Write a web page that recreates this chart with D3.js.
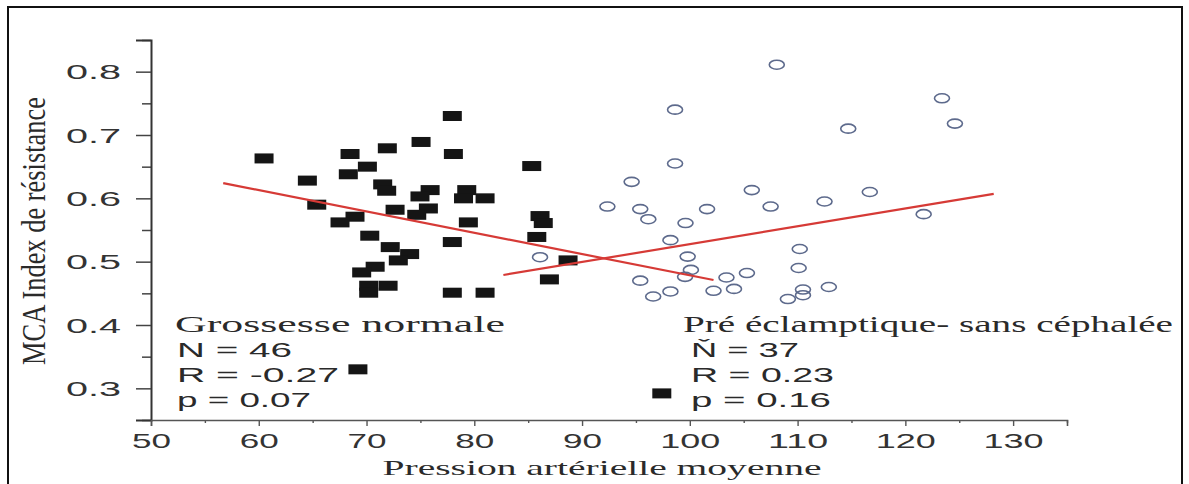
<!DOCTYPE html>
<html><head><meta charset="utf-8">
<script src="https://cdn.jsdelivr.net/npm/d3@7"></script>
<style>html,body{margin:0;padding:0;background:#fff;}svg{display:block;}</style>
</head><body>
<svg id="chart" width="1189" height="484"></svg>
<script>
// ---- data ----
const normalX = [77.96,75.06,71.93,60.49,68.47,78.06,70.08,85.33,68.31,64.51,71.5,71.87,75.9,74.96,79.3,79.0,81.0,65.38,68.93,67.54,72.65,75.74,74.66,79.45,86.1,86.4,70.3,85.8,77.96,72.2,74.0,72.95,70.8,69.55,88.7,86.97,70.2,72.0,70.2,77.96,81.0,69.2,97.4];
const normalY = [0.730,0.689,0.679,0.663,0.670,0.670,0.650,0.651,0.638,0.628,0.622,0.612,0.613,0.603,0.613,0.600,0.600,0.590,0.571,0.562,0.582,0.584,0.574,0.562,0.572,0.561,0.541,0.539,0.531,0.523,0.512,0.502,0.492,0.483,0.502,0.472,0.462,0.462,0.451,0.451,0.451,0.330,0.292];
const preX = [108.07,123.4,124.6,98.63,114.7,98.63,94.6,105.75,116.7,92.35,95.4,101.6,107.5,112.5,96.15,99.6,121.7,98.2,86.1,99.8,110.2,110.1,100.1,99.56,95.4,103.4,105.3,112.9,110.5,110.5,109.1,96.6,98.2,102.2,104.1];
const preY = [0.811,0.758,0.718,0.740,0.710,0.655,0.626,0.613,0.610,0.587,0.583,0.583,0.587,0.595,0.567,0.561,0.575,0.534,0.507,0.508,0.520,0.490,0.487,0.476,0.470,0.475,0.482,0.460,0.456,0.447,0.441,0.445,0.453,0.454,0.457];
const normalFitX = [56.7, 102.2];
const normalFitY = [0.624, 0.471];
const preFitX = [82.7, 128.2];
const preFitY = [0.479, 0.607];
const xMajorTicks = [50,60,70,80,90,100,110,120,130];
const xMinorTicks = [55,65,75,85,95,105,115,125,135];
const yMajorTicks = [0.3,0.4,0.5,0.6,0.7,0.8];
const yMinorTicks = [0.25,0.35,0.45,0.55,0.65,0.75,0.85];
const xTitle = "Pression artérielle moyenne";
const yTitle = "MCA Index de résistance";
const normalLabels = ["Grossesse normale","N = 46","R = -0.27","p = 0.07"];
const preLabels = ["Pré éclamptique- sans céphalée","Ň = 37","R = 0.23","p = 0.16"];

// ---- drawing ----
const svg = d3.select("#chart");
const x = d3.scaleLinear().domain([50,135]).range([151,1067]);
const y = d3.scaleLinear().domain([0.25,0.85]).range([420,40]);
const ink = "#2a2a2a";

// frame
svg.append("rect").attr("x",8).attr("y",7).attr("width",1174).attr("height",500)
  .attr("fill","none").attr("stroke","#111").attr("stroke-width",2);

// y axis
const yMinor = svg.append("g").attr("transform","translate(151,0)")
  .call(d3.axisLeft(y).tickValues(yMinorTicks).tickSize(9).tickFormat(""));
const yMajor = svg.append("g").attr("transform","translate(151,0)")
  .call(d3.axisLeft(y).tickValues(yMajorTicks).tickSize(15).tickFormat(d3.format(".1f")));
[yMinor,yMajor].forEach(g=>{
  g.select(".domain").attr("stroke","#333").attr("stroke-width",2);
  g.selectAll(".tick line").attr("stroke","#444").attr("stroke-width",1.5);
});
yMinor.select(".domain").remove();
yMajor.selectAll(".tick text")
  .attr("x",-30).attr("dy","0.36em")
  .attr("font-family","Liberation Sans, Arial, sans-serif").attr("font-size",20)
  .attr("fill","#333").attr("textLength",55).attr("lengthAdjust","spacingAndGlyphs");

// x axis
const xMinor = svg.append("g").attr("transform","translate(0,420)")
  .call(d3.axisBottom(x).tickValues(xMinorTicks).tickSize(3).tickFormat(""));
const xMajor = svg.append("g").attr("transform","translate(0,420)")
  .call(d3.axisBottom(x).tickValues(xMajorTicks).tickSize(6).tickFormat(d3.format("d")));
[xMinor,xMajor].forEach(g=>{
  g.select(".domain").attr("stroke","#555").attr("stroke-width",1.6);
  g.selectAll(".tick line").attr("stroke","#555").attr("stroke-width",1.4);
});
xMinor.select(".domain").remove();
xMajor.selectAll(".tick text")
  .attr("y",28).attr("dy",null)
  .attr("font-family","Liberation Sans, Arial, sans-serif").attr("font-size",21)
  .attr("fill","#333")
  .attr("textLength",d=>String(d).length===3?60:39).attr("lengthAdjust","spacingAndGlyphs");

// axis titles
svg.append("text").attr("x",602).attr("y",475).attr("text-anchor","middle")
  .attr("font-family","Liberation Serif, Times New Roman, serif").attr("font-size",21)
  .attr("fill",ink).attr("textLength",439).attr("lengthAdjust","spacingAndGlyphs").text(xTitle);
svg.append("text").attr("transform","translate(45,231) rotate(-90)").attr("text-anchor","middle")
  .attr("font-family","Liberation Serif, Times New Roman, serif").attr("font-size",34)
  .attr("fill",ink).attr("textLength",268).attr("lengthAdjust","spacingAndGlyphs").text(yTitle);

// markers
const normal = normalX.map((v,i)=>[v,normalY[i]]);
const pre = preX.map((v,i)=>[v,preY[i]]);
svg.append("g").selectAll("ellipse").data(pre).join("ellipse")
  .attr("cx",d=>x(d[0])).attr("cy",d=>y(d[1])).attr("rx",7.5).attr("ry",4.5)
  .attr("fill","none").attr("stroke","#5d6a8c").attr("stroke-width",1.6);
svg.append("g").selectAll("rect").data(normal).join("rect")
  .attr("x",d=>x(d[0])-9.5).attr("y",d=>y(d[1])-5).attr("width",19).attr("height",10)
  .attr("fill","#151515");

// regression lines
const line = d3.line().x(d=>x(d[0])).y(d=>y(d[1]));
[[normalFitX,normalFitY],[preFitX,preFitY]].forEach(([fx,fy])=>{
  svg.append("path").datum(fx.map((v,i)=>[v,fy[i]])).attr("d",line)
    .attr("fill","none").attr("stroke","#d63a36").attr("stroke-width",2.2);
});

// stats labels
function block(lines, x0, x1, widths){
  lines.forEach((t,i)=>{
    const serif = i===0;
    svg.append("text").attr("x",i===0?x0:x1).attr("y",332+25*i)
      .attr("font-family",serif?"Liberation Serif, Times New Roman, serif":"Liberation Sans, Arial, sans-serif")
      .attr("font-size",serif?23:21).attr("fill",ink)
      .attr("textLength",widths[i]).attr("lengthAdjust","spacingAndGlyphs").text(t);
  });
}
block(normalLabels,175,177,[330,115,162,134]);
block(preLabels,683,691,[490,108,143,140]);
</script>
</body></html>
